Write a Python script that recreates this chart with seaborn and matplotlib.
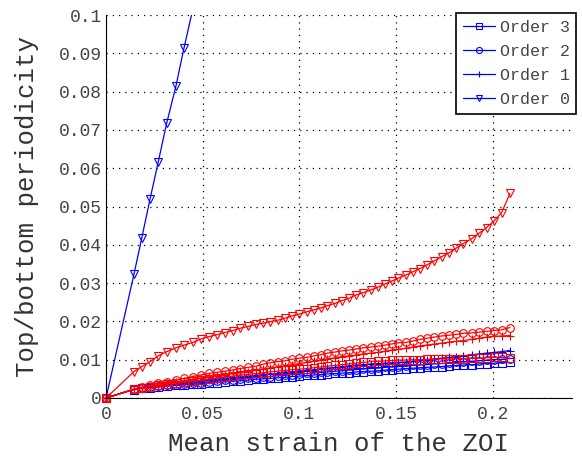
import numpy as np
import pandas as pd
import seaborn as sns
import matplotlib
matplotlib.use("Agg")
import matplotlib.pyplot as plt
from matplotlib.ticker import MultipleLocator, FixedLocator

# ---------------- data ----------------
strain = [0.0, 0.0145, 0.0185, 0.0228, 0.0270, 0.0314, 0.0362, 0.0403, 0.0448, 0.0490, 0.0531,
          0.0572, 0.0614, 0.0655, 0.0693, 0.0736, 0.0776, 0.0810, 0.0848, 0.0888, 0.0924,
          0.0960, 0.0999, 0.1038, 0.1075, 0.1110, 0.1144, 0.1184, 0.1219, 0.1258, 0.1293,
          0.1330, 0.1369, 0.1405, 0.1443, 0.1477, 0.1511, 0.1551, 0.1589, 0.1624, 0.1658,
          0.1698, 0.1736, 0.1774, 0.1810, 0.1847, 0.1891, 0.1929, 0.1968, 0.2006, 0.2046, 0.2089]

blue_order0 = [0.0, 0.0324, 0.0418, 0.0520, 0.0616, 0.0718, 0.0815, 0.0913, 0.1013]

blue_order3 = [0.0, 0.0022, 0.0025, 0.0027, 0.0029, 0.0031, 0.0033, 0.0034, 0.0036, 0.0037, 0.0039,
               0.0040, 0.0042, 0.0044, 0.0045, 0.0047, 0.0049, 0.0050, 0.0051, 0.0053, 0.0054,
               0.0056, 0.0057, 0.0059, 0.0060, 0.0061, 0.0063, 0.0064, 0.0065, 0.0066, 0.0068,
               0.0069, 0.0070, 0.0071, 0.0073, 0.0074, 0.0075, 0.0077, 0.0078, 0.0079, 0.0080,
               0.0081, 0.0082, 0.0084, 0.0085, 0.0086, 0.0087, 0.0089, 0.0090, 0.0091, 0.0092, 0.0093]
blue_order2 = [0.0, 0.0023, 0.0026, 0.0029, 0.0031, 0.0033, 0.0035, 0.0037, 0.0039, 0.0040, 0.0042,
               0.0044, 0.0046, 0.0048, 0.0050, 0.0052, 0.0053, 0.0055, 0.0056, 0.0058, 0.0059,
               0.0061, 0.0062, 0.0064, 0.0065, 0.0067, 0.0068, 0.0070, 0.0071, 0.0073, 0.0074,
               0.0076, 0.0077, 0.0078, 0.0080, 0.0081, 0.0082, 0.0083, 0.0085, 0.0086, 0.0087,
               0.0089, 0.0090, 0.0091, 0.0093, 0.0094, 0.0096, 0.0097, 0.0099, 0.0100, 0.0101, 0.0103]
blue_order1 = [0.0, 0.0023, 0.0026, 0.0029, 0.0032, 0.0034, 0.0037, 0.0039, 0.0041, 0.0043, 0.0046,
               0.0048, 0.0050, 0.0052, 0.0054, 0.0056, 0.0058, 0.0060, 0.0062, 0.0064, 0.0066,
               0.0068, 0.0070, 0.0072, 0.0074, 0.0076, 0.0078, 0.0080, 0.0082, 0.0084, 0.0086,
               0.0087, 0.0089, 0.0090, 0.0091, 0.0092, 0.0093, 0.0094, 0.0096, 0.0098, 0.0100,
               0.0102, 0.0104, 0.0106, 0.0108, 0.0110, 0.0113, 0.0115, 0.0117, 0.0119, 0.0121, 0.0124]

red_order3 = [0.0, 0.0023, 0.0026, 0.0030, 0.0033, 0.0036, 0.0039, 0.0041, 0.0044, 0.0046, 0.0049,
              0.0052, 0.0055, 0.0057, 0.0060, 0.0062, 0.0064, 0.0066, 0.0068, 0.0070, 0.0072,
              0.0074, 0.0075, 0.0077, 0.0079, 0.0081, 0.0083, 0.0085, 0.0087, 0.0089, 0.0091,
              0.0093, 0.0095, 0.0096, 0.0097, 0.0098, 0.0099, 0.0099, 0.0100, 0.0100, 0.0101,
              0.0101, 0.0102, 0.0102, 0.0103, 0.0103, 0.0104, 0.0104, 0.0105, 0.0106, 0.0106, 0.0104]
red_order2 = [0.0, 0.0023, 0.0028, 0.0033, 0.0038, 0.0042, 0.0047, 0.0051, 0.0056, 0.0060, 0.0064,
              0.0067, 0.0070, 0.0073, 0.0077, 0.0080, 0.0083, 0.0088, 0.0092, 0.0095, 0.0097,
              0.0101, 0.0104, 0.0106, 0.0110, 0.0113, 0.0117, 0.0120, 0.0123, 0.0125, 0.0128,
              0.0131, 0.0133, 0.0135, 0.0138, 0.0141, 0.0144, 0.0145, 0.0149, 0.0153, 0.0156,
              0.0159, 0.0162, 0.0164, 0.0166, 0.0169, 0.0170, 0.0172, 0.0174, 0.0176, 0.0178, 0.0184]
red_order1 = [0.0, 0.0023, 0.0027, 0.0031, 0.0035, 0.0039, 0.0042, 0.0045, 0.0049, 0.0052, 0.0055,
              0.0058, 0.0061, 0.0064, 0.0067, 0.0069, 0.0072, 0.0075, 0.0078, 0.0081, 0.0084,
              0.0087, 0.0090, 0.0093, 0.0096, 0.0099, 0.0102, 0.0105, 0.0108, 0.0110, 0.0112,
              0.0115, 0.0117, 0.0119, 0.0122, 0.0125, 0.0127, 0.0130, 0.0133, 0.0136, 0.0138,
              0.0141, 0.0143, 0.0146, 0.0148, 0.0150, 0.0153, 0.0156, 0.0159, 0.0161, 0.0162, 0.0163]
red_order0 = [0.0, 0.0069, 0.0082, 0.0095, 0.0110, 0.0121, 0.0131, 0.0138, 0.0145, 0.0154, 0.0160,
              0.0165, 0.0171, 0.0176, 0.0182, 0.0187, 0.0192, 0.0195, 0.0199, 0.0203, 0.0208,
              0.0214, 0.0219, 0.0225, 0.0230, 0.0235, 0.0241, 0.0247, 0.0254, 0.0261, 0.0269,
              0.0275, 0.0282, 0.0289, 0.0298, 0.0305, 0.0313, 0.0321, 0.0330, 0.0338, 0.0347,
              0.0358, 0.0369, 0.0379, 0.0391, 0.0403, 0.0416, 0.0430, 0.0445, 0.0462, 0.0484, 0.0534]

legend_labels = ["Order 3", "Order 2", "Order 1", "Order 0"]
x_tick_values = [0, 0.05, 0.1, 0.15, 0.2]
x_tick_labels = ["0", "0.05", "0.1", "0.15", "0.2"]
y_tick_values = [0, 0.01, 0.02, 0.03, 0.04, 0.05, 0.06, 0.07, 0.08, 0.09, 0.1]
y_tick_labels = ["0", "0.01", "0.02", "0.03", "0.04", "0.05", "0.06", "0.07", "0.08", "0.09", "0.1"]

# ---------------- style ----------------
sns.set_theme(style="white")
plt.rcParams['font.family'] = ['Liberation Mono', 'DejaVu Sans Mono']
plt.rcParams['xtick.direction'] = 'in'
plt.rcParams['ytick.direction'] = 'in'

fig = plt.figure(figsize=(5.82, 4.59), dpi=100)
ax = fig.add_axes([106/582, 61/459, (572-106)/582, (398-15)/459])

markers = ['s', 'o', '+', 'v']
blue_series = [blue_order3, blue_order2, blue_order1, blue_order0]
red_series = [red_order3, red_order2, red_order1, red_order0]


def draw(ys, mk, col, clip):
    xs = strain[:len(ys)]
    df = pd.DataFrame({"x": xs, "y": ys})
    sns.lineplot(data=df, x="x", y="y", ax=ax, color=col, marker=mk,
                 markersize=5.5 if mk != '+' else 6, markerfacecolor='none',
                 markeredgecolor=col, markeredgewidth=0.8, linewidth=0.9,
                 estimator=None, sort=False, legend=False, clip_on=clip)
    return ax.lines[-1]


handles = []
for ys, mk in zip(blue_series, markers):
    handles.append(draw(ys, mk, (0, 0, 1), mk == 'v'))
for ys, mk in zip(red_series, markers):
    draw(ys, mk, (1, 0, 0), False)

ax.set_xlim(0, 0.241)
ax.set_ylim(0, 0.1)
ax.xaxis.set_major_locator(FixedLocator(x_tick_values))
ax.set_xticklabels(x_tick_labels)
ax.yaxis.set_major_locator(FixedLocator(y_tick_values))
ax.set_yticklabels(y_tick_labels)
ax.xaxis.set_minor_locator(MultipleLocator(0.0025))
ax.yaxis.set_minor_locator(MultipleLocator(0.002))
ax.tick_params(axis='both', which='major', labelsize=13, length=4, width=0.8,
               color='black', labelcolor='#444444', pad=3)
ax.tick_params(axis='both', which='minor', length=2, width=0.6, color='black')
ax.tick_params(axis='x', which='major', pad=6)
ax.tick_params(top=False, right=False, which='both')

ax.grid(True, which='major', linestyle=(0, (1, 4)), color='black', linewidth=0.9)
for s in ['top', 'right']:
    ax.spines[s].set_visible(False)
for s in ['left', 'bottom']:
    ax.spines[s].set_color('black')
    ax.spines[s].set_linewidth(0.8)

ax.set_xlabel("Mean strain of the ZOI", fontsize=18.5, color='#333333', labelpad=6)
ax.set_ylabel("Top/bottom periodicity", fontsize=18.5, color='#333333', labelpad=14)

leg = ax.legend(handles=handles, labels=legend_labels, loc='upper right',
                bbox_to_anchor=(1.009, 1.005), fontsize=12, frameon=True, fancybox=False,
                handlelength=1.9, handletextpad=0.3, labelspacing=0.55, borderpad=0.4,
                borderaxespad=0, markerscale=0.8)
leg.get_frame().set_edgecolor('black')
leg.get_frame().set_linewidth(1.2)
leg.get_frame().set_alpha(1)
for t in leg.get_texts():
    t.set_color('#444444')

fig.savefig("out.png", dpi=100)
